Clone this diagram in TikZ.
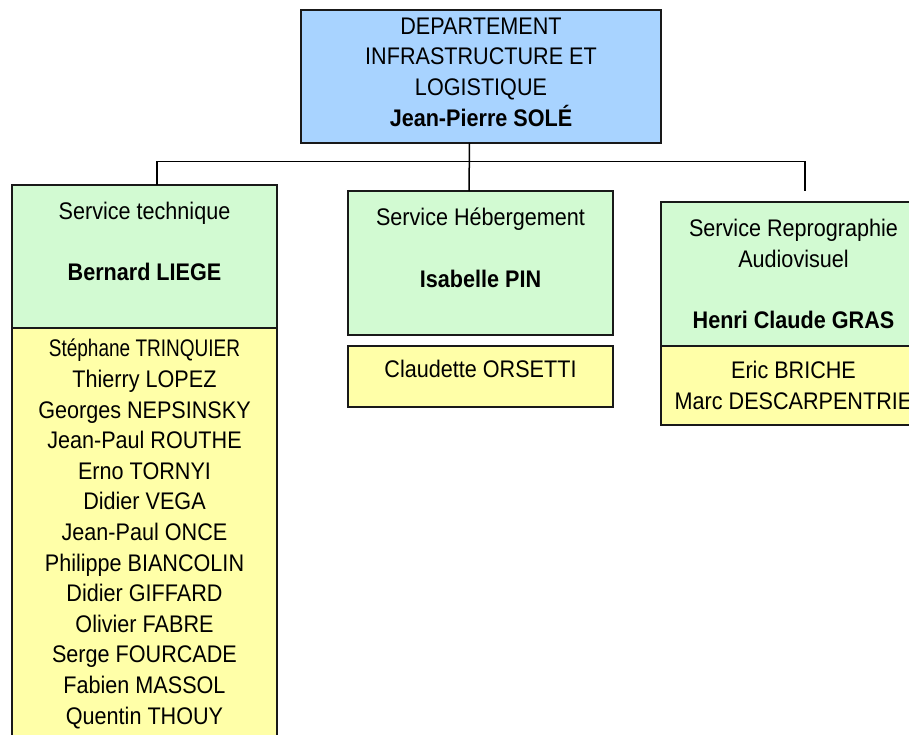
\documentclass[tikz,border=0pt]{standalone}
\usepackage{fontspec}
\setmainfont[FakeStretch=0.9]{Liberation Sans}
\usepackage{graphicx}
\usepackage{xcolor}
\definecolor{deptblue}{RGB}{168,211,255}
\definecolor{servgreen}{RGB}{210,250,210}
\definecolor{staffyellow}{RGB}{255,255,168}
\usetikzlibrary{positioning}

\begin{document}
\begin{tikzpicture}[x=1pt,y=-1pt,line width=1.5pt,
                    font=\fontsize{24}{30.6}\selectfont,
                    every node/.style={inner xsep=0pt,inner ysep=0pt,outer sep=0pt,align=center},
                    box/.style={draw=black!90,minimum width=265pt},
                    dept/.style={box,fill=deptblue,minimum width=360pt,minimum height=133pt,text depth=9pt},
                    service/.style={box,fill=servgreen,minimum height=144pt},
                    staff/.style={box,fill=staffyellow},
                ]
  \useasboundingbox (0,0) rectangle (909,735);

  \node[dept]                 (dept)   at (481,76.5)   {DEPARTEMENT\\INFRASTRUCTURE ET\\LOGISTIQUE\\\textbf{Jean-Pierre SOLÉ}};
  \node[service,minimum height=143pt] (tech) at (144.5,256.5) {Service technique\\\mbox{}\\\textbf{Bernard LIEGE}\\\mbox{}};
  \node[service]              (heberg) at (480.5,263)  {Service Hébergement\\\mbox{}\\\textbf{Isabelle PIN}\\\mbox{}};
  \node[service]              (repro)  at (793.5,274)  {Service Reprographie\\Audiovisuel\\\mbox{}\\\textbf{Henri Claude GRAS}};

  \node[staff,minimum height=412pt]  (techstaff)   [below=0pt of tech]    {\scalebox{0.88}[1]{Stéphane TRINQUIER}\\Thierry LOPEZ\\Georges NEPSINSKY\\Jean-Paul ROUTHE\\Erno TORNYI\\Didier VEGA\\Jean-Paul ONCE\\Philippe BIANCOLIN\\Didier GIFFARD\\Olivier FABRE\\Serge FOURCADE\\Fabien MASSOL\\Quentin THOUY};
  \node[staff,text height=31.5pt,text depth=29.5pt] (hebergstaff) [below=11pt of heberg] {Claudette ORSETTI};
  \node[staff,minimum height=79pt]   (reprostaff)  [below=0pt of repro]   {Eric BRICHE\\Marc DESCARPENTRIE};

  % liaisons
  \coordinate (barR)  at (805,161.7);
  \coordinate (stubR) at (805,191);
  \draw ([xshift=12.5pt]tech.north) |- (barR) -- (stubR);
  \draw ([xshift=-11.5pt]dept.south) -- ([xshift=-11.5pt]heberg.north);
\end{tikzpicture}
\end{document}
